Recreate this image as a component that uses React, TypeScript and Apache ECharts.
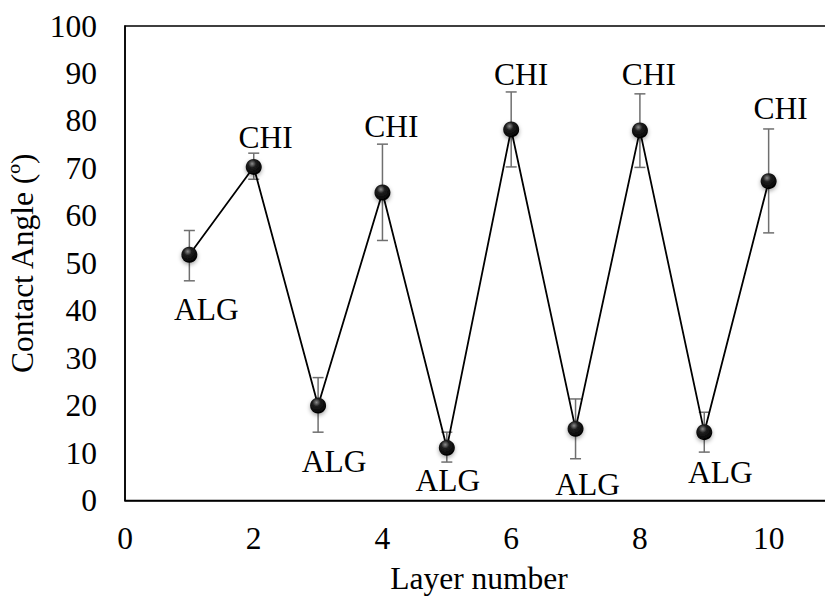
import React, { useEffect, useRef } from 'react';
import * as echarts from 'echarts';

const layers = [1, 2, 3, 4, 5, 6, 7, 8, 9, 10];
const contactAngle = [51.8, 70.3, 20.0, 64.9, 11.1, 78.2, 15.1, 78.0, 14.4, 67.3];
const errUpper = [56.9, 73.2, 25.9, 75.1, 14.4, 86.1, 21.4, 85.7, 18.6, 78.3];
const errLower = [46.3, 67.7, 14.4, 54.8, 8.1, 70.3, 8.8, 70.2, 10.2, 56.4];
const layerTypes = ['ALG', 'CHI', 'ALG', 'CHI', 'ALG', 'CHI', 'ALG', 'CHI', 'ALG', 'CHI'];
const labelOffsets = [
  [17, 55], [12, -29], [16, 56], [9, -66], [1, 33],
  [10, -55], [12, 56], [9, -56], [16, 40], [12, -73],
];

const FONT = '"Liberation Serif", "Times New Roman", serif';
const FS = 31.5;

export default function App() {
  const ref = useRef<HTMLDivElement>(null);

  useEffect(() => {
    const chart = echarts.init(ref.current as HTMLDivElement, null, { renderer: 'svg' });
    chart.setOption({
      animation: false,
      backgroundColor: '#fff',
      textStyle: { fontFamily: FONT },
      grid: {
        left: 125,
        top: 26,
        width: 708,
        height: 474.5,
        show: true,
        borderColor: '#000',
        borderWidth: 1.5,
        containLabel: false,
        outerBoundsMode: 'none',
      },
      xAxis: {
        type: 'value',
        min: 0,
        max: 11,
        interval: 2,
        splitLine: { show: false },
        axisLine: { show: true, lineStyle: { color: '#000', width: 1.5 } },
        axisTick: { show: false },
        axisLabel: {
          fontSize: FS,
          color: '#000',
          margin: 22,
          fontFamily: FONT,
          formatter: (v: number) => (v % 2 === 0 ? String(v) : ''),
        },
        name: 'Layer number',
        nameLocation: 'middle',
        nameGap: 62,
        nameTextStyle: { fontSize: FS, color: '#000', fontFamily: FONT },
      },
      yAxis: {
        type: 'value',
        min: 0,
        max: 100,
        interval: 10,
        splitLine: { show: false },
        axisLine: { show: true, lineStyle: { color: '#000', width: 1.5 } },
        axisTick: { show: false },
        axisLabel: { fontSize: FS, color: '#000', margin: 28, fontFamily: FONT },
        name: 'Contact Angle (º)',
        nameLocation: 'middle',
        nameGap: 86,
        nameTextStyle: { fontSize: FS, color: '#000', fontFamily: FONT },
      },
      series: [
        {
          type: 'custom',
          z: 1,
          data: layers.map((x, i) => [x, errUpper[i], errLower[i]]),
          encode: { x: 0, y: [1, 2] },
          renderItem: (params: any, api: any) => {
            const x = api.value(0);
            const pHi = api.coord([x, api.value(1)]);
            const pLo = api.coord([x, api.value(2)]);
            const w = 5.5;
            const style = { stroke: '#6f6f6f', lineWidth: 1.5 };
            return {
              type: 'group',
              children: [
                { type: 'line', shape: { x1: pHi[0], y1: pHi[1], x2: pLo[0], y2: pLo[1] }, style },
                { type: 'line', shape: { x1: pHi[0] - w, y1: pHi[1], x2: pHi[0] + w, y2: pHi[1] }, style },
                { type: 'line', shape: { x1: pLo[0] - w, y1: pLo[1], x2: pLo[0] + w, y2: pLo[1] }, style },
              ],
            };
          },
        },
        {
          type: 'line',
          z: 3,
          symbol: 'circle',
          symbolSize: 16,
          lineStyle: { color: '#000', width: 1.8 },
          itemStyle: {
            color: new echarts.graphic.RadialGradient(0.4, 0.3, 0.7, [
              { offset: 0, color: '#8c8c8c' },
              { offset: 0.35, color: '#1e1e1e' },
              { offset: 1, color: '#000' },
            ]),
            shadowBlur: 4,
            shadowColor: 'rgba(0,0,0,0.35)',
            shadowOffsetY: 2,
          },
          data: contactAngle.map((v, i) => ({
            value: [layers[i], v],
            label: {
              show: true,
              position: 'inside',
              offset: labelOffsets[i],
              formatter: layerTypes[i],
              fontSize: FS,
              color: '#000',
              fontFamily: FONT,
            },
          })),
        },
      ],
    });
    return () => chart.dispose();
  }, []);

  return (
    <div
      ref={ref}
      style={{ position: 'fixed', left: 0, top: 0, width: 825, height: 597, background: '#fff' }}
    />
  );
}
